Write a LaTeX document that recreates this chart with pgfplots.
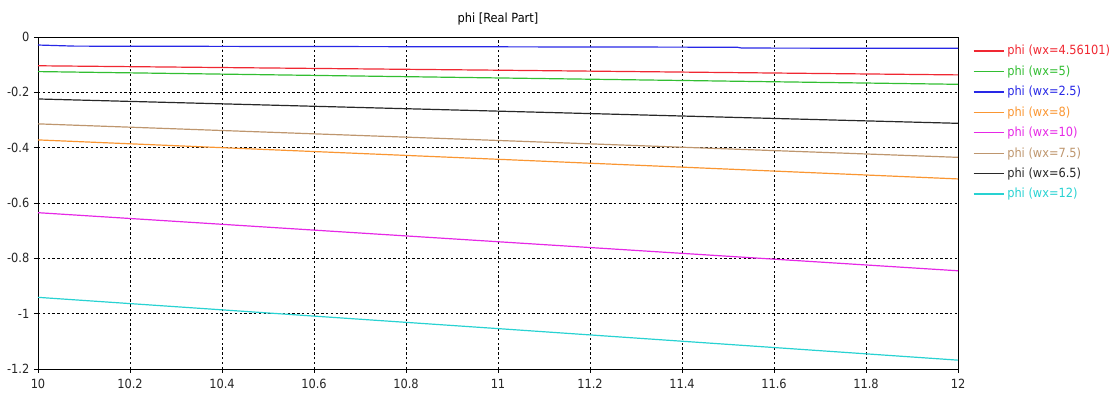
\documentclass[border=0pt]{standalone}
\usepackage{pgfplots}
\pgfplotsset{compat=1.18}
\usepackage{fontspec}
\setmainfont{DejaVu Sans Condensed}
\definecolor{cred}{RGB}{240,40,50}
\definecolor{cgreen}{RGB}{50,190,50}
\definecolor{cblue}{RGB}{40,40,230}
\definecolor{corange}{RGB}{250,150,50}
\definecolor{cmag}{RGB}{230,40,230}
\definecolor{cbrown}{RGB}{190,150,110}
\definecolor{cblack}{RGB}{40,40,40}
\definecolor{ccyan}{RGB}{40,210,210}
\begin{document}
\begin{tikzpicture}
\begin{axis}[
  name=ax,
  scale only axis,
  width=690pt, height=249pt,
  xmin=10, xmax=12, ymin=-1.2, ymax=0,
  xtick={10,10.2,...,12.01},
  ytick={-1.2,-1,-0.8,-0.6,-0.4,-0.2,0},
  xticklabels={10,10.2,10.4,10.6,10.8,11,11.2,11.4,11.6,11.8,12},
  yticklabels={-1.2,-1,-0.8,-0.6,-0.4,-0.2,0},
  tick align=outside,
  major tick length=3pt,
  tick style={black, line width=0.6pt},
  xtick pos=bottom, ytick pos=left,
  grid=major,
  grid style={black, line width=0.6pt, dash pattern=on 1.8pt off 1.8pt},
  axis line style={line width=0.7pt},
  ticklabel style={font=\fontsize{9.5}{11}\selectfont, text=black!85},
  xticklabel style={yshift=-1pt},
  title={phi [Real Part]},
  title style={font=\fontsize{9.5}{11}\selectfont, yshift=-0.5pt},
  legend style={at={(1,1)}, anchor=north west, xshift=11pt, yshift=-4pt, draw=none, fill=none,
    font=\fontsize{9.5}{11}\selectfont, row sep=2.6pt, inner sep=0pt},
  legend cell align=left,
  legend image code/.code={\draw[#1, line width=1pt] (0cm,0cm) -- (0.8cm,0cm);},
  every axis plot/.append style={line width=0.9pt},
]
\addplot[cred] coordinates {(10,-0.104) (11,-0.120) (12,-0.137)};
\addlegendentry{\textcolor{cred}{phi (wx=4.56101)}}
\addplot[cgreen] coordinates {(10,-0.125) (11,-0.148) (12,-0.171)};
\addlegendentry{\textcolor{cgreen}{phi (wx=5)}}
\addplot[cblue] coordinates {(10,-0.029) (10.08,-0.033) (11.52,-0.037) (11.53,-0.040) (12,-0.041)};
\addlegendentry{\textcolor{cblue}{phi (wx=2.5)}}
\addplot[corange] coordinates {(10,-0.372) (11,-0.442) (12,-0.513)};
\addlegendentry{\textcolor{corange}{phi (wx=8)}}
\addplot[cmag] coordinates {(10,-0.635) (11,-0.740) (12,-0.845)};
\addlegendentry{\textcolor{cmag}{phi (wx=10)}}
\addplot[cbrown] coordinates {(10,-0.314) (11,-0.374) (12,-0.435)};
\addlegendentry{\textcolor{cbrown}{phi (wx=7.5)}}
\addplot[cblack] coordinates {(10,-0.224) (11,-0.268) (12,-0.312)};
\addlegendentry{\textcolor{cblack}{phi (wx=6.5)}}
\addplot[ccyan] coordinates {(10,-0.941) (11,-1.054) (12,-1.168)};
\addlegendentry{\textcolor{ccyan}{phi (wx=12)}}
\end{axis}
\path[use as bounding box] ([shift={(-28.5pt,-16.5pt)}]ax.south west) rectangle ([shift={(117.75pt,27.75pt)}]ax.north east);
\end{tikzpicture}
\end{document}
